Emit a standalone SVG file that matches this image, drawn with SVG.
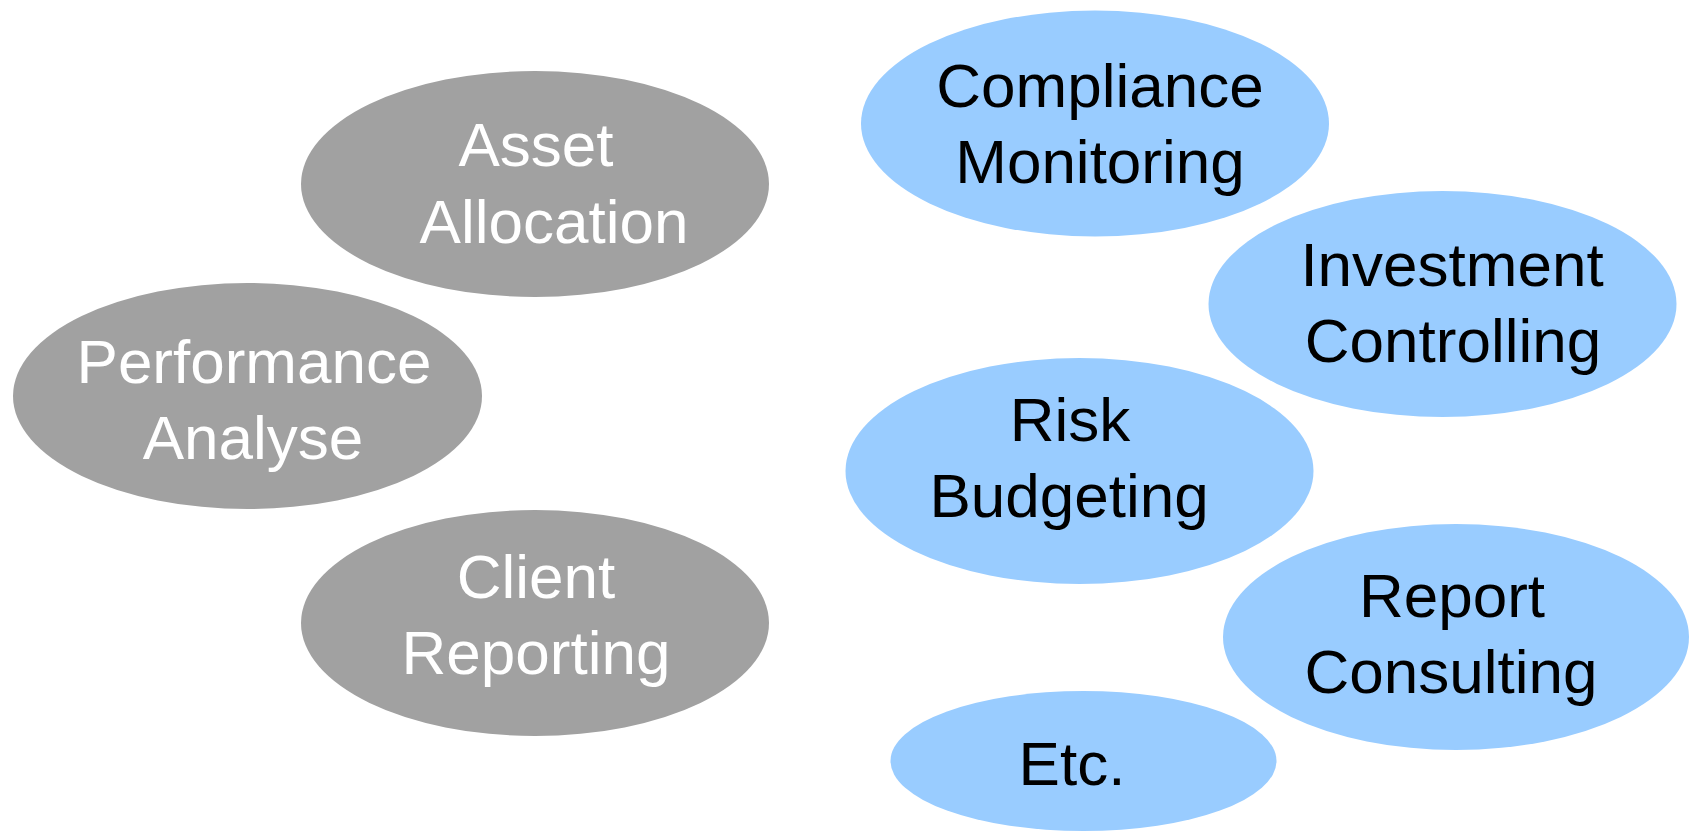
<svg xmlns="http://www.w3.org/2000/svg" width="1691" height="831" viewBox="0 0 1691 831">
<style>
.g{fill:#a1a1a1}
.b{fill:#99ccff}
text{font-family:"Liberation Sans",Arial,Helvetica,sans-serif;font-size:62px;text-anchor:middle}
.w{fill:#ffffff}
.k{fill:#000000}
</style>
<rect width="1691" height="831" fill="#ffffff"/>
<g id="connectors"></g>
<g id="asset-allocation">
<ellipse class="g" cx="535" cy="184" rx="234" ry="113"/>
<text class="w" x="536" y="166">Asset</text>
<text class="w" x="554" y="243">Allocation</text>
</g>
<g id="performance-analyse">
<ellipse class="g" cx="247.5" cy="396" rx="234.5" ry="113"/>
<text class="w" x="254" y="383">Performance</text>
<text class="w" x="253" y="459">Analyse</text>
</g>
<g id="client-reporting">
<ellipse class="g" cx="535" cy="623" rx="234" ry="113"/>
<text class="w" x="536" y="598">Client</text>
<text class="w" x="536" y="674">Reporting</text>
</g>
<g id="compliance-monitoring">
<ellipse class="b" cx="1095" cy="123.5" rx="234" ry="113"/>
<text class="k" x="1100" y="107">Compliance</text>
<text class="k" x="1100" y="183">Monitoring</text>
</g>
<g id="investment-controlling">
<ellipse class="b" cx="1442.5" cy="304" rx="234" ry="113"/>
<text class="k" x="1452" y="286">Investment</text>
<text class="k" x="1453" y="362">Controlling</text>
</g>
<g id="risk-budgeting">
<ellipse class="b" cx="1079.5" cy="471" rx="234" ry="113"/>
<text class="k" x="1070" y="441">Risk</text>
<text class="k" x="1069" y="517">Budgeting</text>
</g>
<g id="report-consulting">
<ellipse class="b" cx="1456" cy="637" rx="233" ry="113"/>
<text class="k" x="1452" y="617">Report</text>
<text class="k" x="1451" y="693">Consulting</text>
</g>
<g id="etc">
<ellipse class="b" cx="1083.5" cy="761" rx="193" ry="70"/>
<text class="k" x="1072" y="785">Etc.</text>
</g>
</svg>
